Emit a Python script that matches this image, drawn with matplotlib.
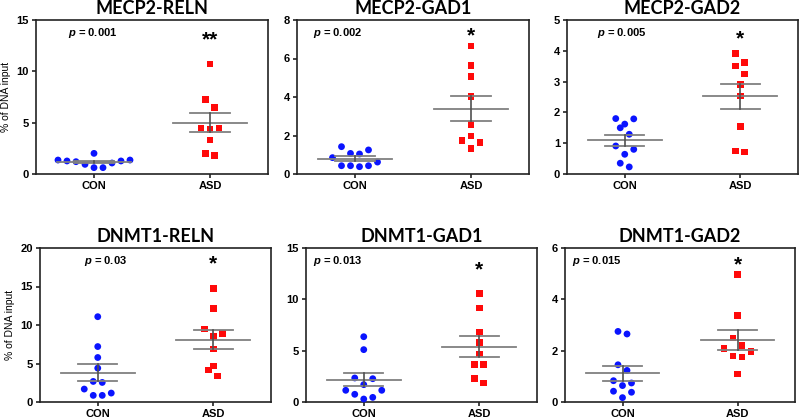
import numpy as np
import matplotlib
matplotlib.use("Agg")
import matplotlib.pyplot as plt

plt.rcParams['font.family'] = ['Liberation Sans', 'DejaVu Sans']
plt.rcParams['font.weight'] = 'bold'
plt.rcParams['mathtext.fontset'] = 'custom'
plt.rcParams['mathtext.it'] = 'Liberation Sans:italic:bold'
plt.rcParams['mathtext.rm'] = 'Liberation Sans:bold'

# ---- data (% of DNA input) ----
groups = ["CON", "ASD"]
titles = ["MECP2-RELN", "MECP2-GAD1", "MECP2-GAD2",
          "DNMT1-RELN", "DNMT1-GAD1", "DNMT1-GAD2"]
p_labels = ["0.001", "0.002", "0.005", "0.03", "0.013", "0.015"]
stars = ["**", "*", "*", "*", "*", "*"]
y_max = [15, 8, 5, 20, 15, 6]
y_step = [5, 2, 1, 5, 5, 2]

con_reln = [1.36, 1.27, 1.2, 0.94, 2.01, 0.62, 0.62, 1.07, 1.27, 1.36]
asd_reln = [10.7, 7.27, 6.5, 4.5, 4.35, 4.5, 3.3, 1.82, 1.98]
con_gad1 = [1.42, 1.07, 1.04, 1.25, 0.62, 0.43, 0.38, 0.43, 0.43, 0.85]
asd_gad1 = [6.65, 5.63, 5.06, 4.02, 2.58, 1.97, 1.75, 1.63, 1.32]
con_gad2 = [1.79, 1.8, 1.62, 1.5, 1.29, 0.8, 0.91, 0.64, 0.35, 0.23]
asd_gad2 = [3.92, 3.62, 3.5, 3.25, 2.9, 2.53, 1.55, 0.71, 0.75]
con_d_reln = [11.08, 7.2, 5.78, 4.4, 2.67, 2.54, 1.68, 1.16, 0.86, 0.86]
asd_d_reln = [14.74, 12.16, 9.48, 8.92, 8.49, 6.9, 4.7, 4.18, 3.4]
con_d_gad1 = [6.36, 5.1, 2.27, 2.34, 1.69, 1.14, 1.14, 0.75, 0.29, 0.45]
asd_d_gad1 = [10.58, 9.16, 6.82, 5.81, 4.68, 3.64, 3.64, 1.85, 2.27]
con_d_gad2 = [2.75, 2.65, 1.45, 1.23, 0.74, 0.83, 0.64, 0.42, 0.38, 0.17]
asd_d_gad2 = [4.96, 3.38, 2.49, 2.21, 2.08, 1.97, 1.79, 1.75, 1.1]

con_sets = [con_reln, con_gad1, con_gad2, con_d_reln, con_d_gad1, con_d_gad2]
asd_sets = [asd_reln, asd_gad1, asd_gad2, asd_d_reln, asd_d_gad1, asd_d_gad2]

# axes boxes in pixels (left, top, right, bottom) of an 800x420 figure
boxes = [(36, 20, 268, 174), (297, 20, 529, 174), (567, 20, 798, 174),
         (40, 248, 271, 402), (306, 248, 537, 402), (565, 248, 795, 402)]
p_x = [0.14, 0.07, 0.13, 0.19, 0.03, 0.03]
star_y = [0.87, 0.9, 0.88, 0.9, 0.86, 0.89]


def scatter_columns(ax, xc, vals, row_px=10.0, step_px=9.0):
    """Prism-style dot layout: points within row_px of each other (vertically)
    share a row and are spread side by side around the group centre."""
    vals = np.asarray(vals, dtype=float)
    ys = ax.transData.transform(np.column_stack([np.full(len(vals), xc), vals]))[:, 1]
    px_per_x = ax.transData.transform([[1, 0]])[0, 0] - ax.transData.transform([[0, 0]])[0, 0]
    order = np.argsort(ys, kind='stable')
    offs = np.zeros(len(vals))
    i = 0
    while i < len(order):
        start = ys[order[i]]
        j = i
        while j < len(order) and ys[order[j]] - start < row_px:
            j += 1
        row = order[i:j]
        n = len(row)
        if n % 2:
            slots = [0.0]
            for m in range(1, n // 2 + 1):
                slots += [m, -m]
        else:
            slots = []
            for m in range(n // 2):
                slots += [m + 0.5, -(m + 0.5)]
        for idx, s in zip(row, slots):
            offs[idx] = s * step_px
        i = j
    return xc + offs / px_per_x


def mean_sem(ax, xc, vals):
    v = np.asarray(vals, dtype=float)
    m = v.mean()
    s = v.std(ddof=1) / np.sqrt(len(v))
    ax.plot([xc - 0.32, xc + 0.32], [m, m], color='#808080', lw=1.3, zorder=5)
    ax.plot([xc - 0.17, xc + 0.17], [m + s, m + s], color='#808080', lw=1.3, zorder=5)
    ax.plot([xc - 0.17, xc + 0.17], [m - s, m - s], color='#808080', lw=1.3, zorder=5)
    ax.plot([xc, xc], [m - s, m + s], color='#505050', lw=1.2, zorder=5)


fig = plt.figure(figsize=(8, 4.2), dpi=100)

for k in range(6):
    l, t, r, b = boxes[k]
    ax = fig.add_axes([l / 800, (420 - b) / 420, (r - l) / 800, (b - t) / 420])
    ax.set_xlim(0.5, 2.5)
    ax.set_ylim(0, y_max[k])
    ax.set_yticks(np.arange(0, y_max[k] + 0.01, y_step[k]))
    ax.set_xticks([1, 2])
    ax.set_xticklabels(groups)
    for sp in ax.spines.values():
        sp.set_linewidth(1.2)
        sp.set_color('#222222')
    ax.tick_params(direction='out', length=3, width=1.2, color='#222222',
                   labelsize=8, pad=2)
    for lab in ax.get_xticklabels() + ax.get_yticklabels():
        lab.set_fontweight('bold')

    xs_con = scatter_columns(ax, 1, con_sets[k])
    xs_asd = scatter_columns(ax, 2, asd_sets[k])
    ax.scatter(xs_con, con_sets[k], s=24, marker='o', color='#0a14ff',
               edgecolors='none', zorder=3, clip_on=False)
    ax.scatter(xs_asd, asd_sets[k], s=22, marker='s', color='#ff0a0a',
               edgecolors='none', zorder=3, clip_on=False)
    mean_sem(ax, 1, con_sets[k])
    mean_sem(ax, 2, asd_sets[k])

    ax.set_title(titles[k], fontsize=13, fontweight='bold', family='Lato', pad=4)
    ax.text(p_x[k], 0.915, r'$p$ = ' + p_labels[k], transform=ax.transAxes,
            fontsize=8, fontweight='bold', va='center', ha='left')
    ax.text(2, star_y[k] * y_max[k], stars[k], fontsize=15, fontweight='bold',
            ha='center', va='center')
    if k in (0, 3):
        ax.set_ylabel('% of DNA input', fontsize=7.5, fontweight='normal', labelpad=4)

fig.savefig('out.png', dpi=100)
